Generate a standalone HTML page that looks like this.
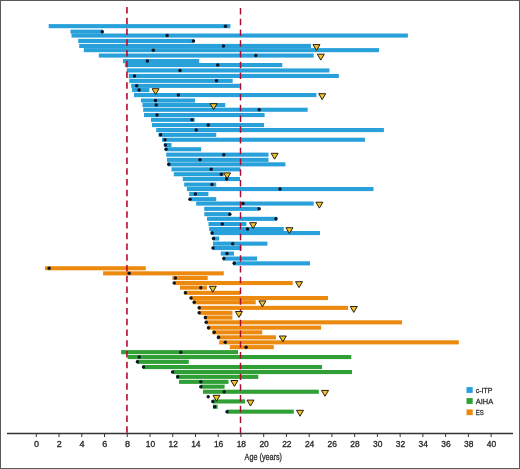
<!DOCTYPE html>
<html><head><meta charset="utf-8"><style>
html,body{margin:0;padding:0;background:#fff;}
body{width:520px;height:469px;overflow:hidden;}
svg{display:block;will-change:transform;font-family:"Liberation Sans",sans-serif;}
</style></head><body>
<svg width="520" height="469" viewBox="0 0 520 469">
<rect x="0" y="0" width="520" height="469" fill="#fff"/>
<rect x="48.70" y="24.10" width="181.70" height="4.1" fill="#28a1db"/><rect x="70.50" y="29.60" width="32.50" height="4.1" fill="#28a1db"/><rect x="71.50" y="33.50" width="336.40" height="4.1" fill="#28a1db"/><rect x="78.20" y="38.90" width="115.80" height="4.1" fill="#28a1db"/><rect x="79.20" y="43.90" width="231.70" height="4.1" fill="#28a1db"/><rect x="83.80" y="48.10" width="295.20" height="4.1" fill="#28a1db"/><rect x="98.80" y="53.50" width="214.90" height="4.1" fill="#28a1db"/><rect x="123.00" y="59.00" width="76.20" height="4.1" fill="#28a1db"/><rect x="124.90" y="63.00" width="157.40" height="4.1" fill="#28a1db"/><rect x="126.80" y="68.40" width="202.60" height="4.1" fill="#28a1db"/><rect x="128.75" y="73.90" width="210.05" height="4.1" fill="#28a1db"/><rect x="129.20" y="78.80" width="103.50" height="4.1" fill="#28a1db"/><rect x="131.20" y="83.80" width="108.60" height="4.1" fill="#28a1db"/><rect x="132.10" y="88.00" width="17.30" height="4.1" fill="#28a1db"/><rect x="134.00" y="93.00" width="182.40" height="4.1" fill="#28a1db"/><rect x="141.00" y="98.50" width="54.00" height="4.1" fill="#28a1db"/><rect x="142.50" y="103.00" width="82.70" height="4.1" fill="#28a1db"/><rect x="143.20" y="107.70" width="164.50" height="4.1" fill="#28a1db"/><rect x="144.00" y="113.00" width="120.60" height="4.1" fill="#28a1db"/><rect x="151.00" y="117.80" width="43.70" height="4.1" fill="#28a1db"/><rect x="152.00" y="123.00" width="112.00" height="4.1" fill="#28a1db"/><rect x="156.20" y="128.00" width="227.70" height="4.1" fill="#28a1db"/><rect x="158.50" y="132.80" width="57.70" height="4.1" fill="#28a1db"/><rect x="162.00" y="137.70" width="202.90" height="4.1" fill="#28a1db"/><rect x="164.20" y="143.00" width="7.30" height="4.1" fill="#28a1db"/><rect x="165.80" y="147.20" width="35.40" height="4.1" fill="#28a1db"/><rect x="166.20" y="152.60" width="102.30" height="4.1" fill="#28a1db"/><rect x="167.00" y="157.80" width="101.50" height="4.1" fill="#28a1db"/><rect x="167.70" y="162.30" width="117.70" height="4.1" fill="#28a1db"/><rect x="171.50" y="167.30" width="68.90" height="4.1" fill="#28a1db"/><rect x="173.80" y="172.20" width="49.90" height="4.1" fill="#28a1db"/><rect x="182.80" y="177.00" width="57.20" height="4.1" fill="#28a1db"/><rect x="184.20" y="182.50" width="32.00" height="4.1" fill="#28a1db"/><rect x="186.90" y="187.00" width="186.60" height="4.1" fill="#28a1db"/><rect x="189.20" y="192.00" width="19.20" height="4.1" fill="#28a1db"/><rect x="190.30" y="197.10" width="25.90" height="4.1" fill="#28a1db"/><rect x="196.20" y="201.50" width="117.50" height="4.1" fill="#28a1db"/><rect x="204.20" y="206.80" width="54.60" height="4.1" fill="#28a1db"/><rect x="204.30" y="212.10" width="26.10" height="4.1" fill="#28a1db"/><rect x="207.00" y="216.80" width="70.00" height="4.1" fill="#28a1db"/><rect x="208.50" y="222.00" width="37.90" height="4.1" fill="#28a1db"/><rect x="209.20" y="227.00" width="74.60" height="4.1" fill="#28a1db"/><rect x="210.80" y="231.00" width="109.20" height="4.1" fill="#28a1db"/><rect x="213.00" y="236.50" width="6.20" height="4.1" fill="#28a1db"/><rect x="213.00" y="241.60" width="54.40" height="4.1" fill="#28a1db"/><rect x="213.00" y="246.00" width="28.50" height="4.1" fill="#28a1db"/><rect x="220.80" y="251.50" width="13.20" height="4.1" fill="#28a1db"/><rect x="223.00" y="256.50" width="34.00" height="4.1" fill="#28a1db"/><rect x="233.00" y="261.30" width="77.00" height="4.1" fill="#28a1db"/><rect x="45.10" y="266.20" width="100.70" height="4.1" fill="#ec8a0f"/><rect x="103.10" y="271.30" width="120.70" height="4.1" fill="#ec8a0f"/><rect x="172.40" y="276.00" width="35.30" height="4.1" fill="#ec8a0f"/><rect x="174.60" y="281.00" width="118.10" height="4.1" fill="#ec8a0f"/><rect x="180.00" y="285.60" width="27.00" height="4.1" fill="#ec8a0f"/><rect x="184.60" y="290.80" width="55.60" height="4.1" fill="#ec8a0f"/><rect x="190.80" y="296.00" width="137.20" height="4.1" fill="#ec8a0f"/><rect x="193.00" y="300.20" width="62.70" height="4.1" fill="#ec8a0f"/><rect x="198.50" y="305.80" width="149.60" height="4.1" fill="#ec8a0f"/><rect x="199.20" y="310.80" width="33.20" height="4.1" fill="#ec8a0f"/><rect x="204.60" y="315.50" width="27.80" height="4.1" fill="#ec8a0f"/><rect x="206.20" y="320.30" width="195.90" height="4.1" fill="#ec8a0f"/><rect x="207.70" y="325.60" width="113.40" height="4.1" fill="#ec8a0f"/><rect x="212.30" y="330.30" width="49.90" height="4.1" fill="#ec8a0f"/><rect x="217.00" y="335.30" width="59.00" height="4.1" fill="#ec8a0f"/><rect x="219.20" y="340.30" width="239.60" height="4.1" fill="#ec8a0f"/><rect x="229.80" y="345.10" width="44.00" height="4.1" fill="#ec8a0f"/><rect x="121.10" y="350.10" width="116.90" height="4.1" fill="#2f9f36"/><rect x="127.70" y="355.00" width="223.60" height="4.1" fill="#2f9f36"/><rect x="137.00" y="359.80" width="51.80" height="4.1" fill="#2f9f36"/><rect x="143.00" y="365.00" width="179.00" height="4.1" fill="#2f9f36"/><rect x="173.00" y="370.00" width="179.00" height="4.1" fill="#2f9f36"/><rect x="176.50" y="374.80" width="81.80" height="4.1" fill="#2f9f36"/><rect x="179.00" y="379.80" width="49.50" height="4.1" fill="#2f9f36"/><rect x="200.80" y="384.60" width="23.80" height="4.1" fill="#2f9f36"/><rect x="203.00" y="389.70" width="115.80" height="4.1" fill="#2f9f36"/><rect x="212.80" y="399.40" width="32.20" height="4.1" fill="#2f9f36"/><rect x="213.00" y="404.70" width="4.70" height="4.1" fill="#2f9f36"/><rect x="227.00" y="409.60" width="66.80" height="4.1" fill="#2f9f36"/>
<line x1="126.95" y1="6.9" x2="126.95" y2="433" stroke="#b80a2c" stroke-width="1.6" stroke-dasharray="6.5 4.25"/><line x1="240.5" y1="8.0" x2="240.5" y2="433" stroke="#ab0d31" stroke-width="1.45" stroke-dasharray="6.5 4.25"/>
<circle cx="225.50" cy="26.15" r="1.75" fill="#0c1525"/><circle cx="102.30" cy="31.65" r="1.75" fill="#0c1525"/><circle cx="167.10" cy="35.55" r="1.75" fill="#0c1525"/><circle cx="193.50" cy="40.95" r="1.75" fill="#0c1525"/><circle cx="223.50" cy="45.95" r="1.75" fill="#0c1525"/><path d="M313.00 44.60L320.00 44.60L316.50 50.50Z" fill="#f3c22b" stroke="#1c160a" stroke-width="0.95" stroke-linejoin="miter"/><circle cx="153.30" cy="50.15" r="1.75" fill="#0c1525"/><circle cx="255.80" cy="55.55" r="1.75" fill="#0c1525"/><path d="M317.30 54.20L324.30 54.20L320.80 60.10Z" fill="#f3c22b" stroke="#1c160a" stroke-width="0.95" stroke-linejoin="miter"/><circle cx="147.40" cy="61.05" r="1.75" fill="#0c1525"/><circle cx="217.70" cy="65.05" r="1.75" fill="#0c1525"/><circle cx="180.00" cy="70.45" r="1.75" fill="#0c1525"/><circle cx="134.50" cy="75.95" r="1.75" fill="#0c1525"/><circle cx="216.50" cy="80.85" r="1.75" fill="#0c1525"/><circle cx="136.70" cy="85.85" r="1.75" fill="#0c1525"/><circle cx="139.10" cy="90.05" r="1.75" fill="#0c1525"/><path d="M152.10 88.70L159.10 88.70L155.60 94.60Z" fill="#f3c22b" stroke="#1c160a" stroke-width="0.95" stroke-linejoin="miter"/><circle cx="178.40" cy="95.05" r="1.75" fill="#0c1525"/><path d="M318.70 93.70L325.70 93.70L322.20 99.60Z" fill="#f3c22b" stroke="#1c160a" stroke-width="0.95" stroke-linejoin="miter"/><circle cx="155.50" cy="100.55" r="1.75" fill="#0c1525"/><circle cx="156.20" cy="105.05" r="1.75" fill="#0c1525"/><path d="M210.10 103.70L217.10 103.70L213.60 109.60Z" fill="#f3c22b" stroke="#1c160a" stroke-width="0.95" stroke-linejoin="miter"/><circle cx="259.20" cy="109.75" r="1.75" fill="#0c1525"/><circle cx="157.00" cy="115.05" r="1.75" fill="#0c1525"/><circle cx="192.00" cy="119.85" r="1.75" fill="#0c1525"/><circle cx="208.20" cy="125.05" r="1.75" fill="#0c1525"/><circle cx="196.20" cy="130.05" r="1.75" fill="#0c1525"/><circle cx="160.60" cy="134.85" r="1.75" fill="#0c1525"/><circle cx="165.00" cy="139.75" r="1.75" fill="#0c1525"/><circle cx="165.40" cy="145.05" r="1.75" fill="#0c1525"/><circle cx="166.00" cy="149.25" r="1.75" fill="#0c1525"/><circle cx="223.80" cy="154.65" r="1.75" fill="#0c1525"/><path d="M271.10 153.30L278.10 153.30L274.60 159.20Z" fill="#f3c22b" stroke="#1c160a" stroke-width="0.95" stroke-linejoin="miter"/><circle cx="200.00" cy="159.85" r="1.75" fill="#0c1525"/><circle cx="168.80" cy="164.35" r="1.75" fill="#0c1525"/><circle cx="211.20" cy="169.35" r="1.75" fill="#0c1525"/><circle cx="221.30" cy="174.25" r="1.75" fill="#0c1525"/><path d="M223.60 172.90L230.60 172.90L227.10 178.80Z" fill="#f3c22b" stroke="#1c160a" stroke-width="0.95" stroke-linejoin="miter"/><circle cx="226.60" cy="179.05" r="1.75" fill="#0c1525"/><circle cx="212.00" cy="184.55" r="1.75" fill="#0c1525"/><circle cx="280.00" cy="189.05" r="1.75" fill="#0c1525"/><circle cx="195.40" cy="194.05" r="1.75" fill="#0c1525"/><circle cx="190.00" cy="199.15" r="1.75" fill="#0c1525"/><circle cx="243.00" cy="203.55" r="1.75" fill="#0c1525"/><path d="M315.90 202.20L322.90 202.20L319.40 208.10Z" fill="#f3c22b" stroke="#1c160a" stroke-width="0.95" stroke-linejoin="miter"/><circle cx="259.20" cy="208.85" r="1.75" fill="#0c1525"/><circle cx="229.80" cy="214.15" r="1.75" fill="#0c1525"/><circle cx="276.00" cy="218.85" r="1.75" fill="#0c1525"/><circle cx="222.30" cy="224.05" r="1.75" fill="#0c1525"/><path d="M249.60 222.70L256.60 222.70L253.10 228.60Z" fill="#f3c22b" stroke="#1c160a" stroke-width="0.95" stroke-linejoin="miter"/><circle cx="247.50" cy="229.05" r="1.75" fill="#0c1525"/><path d="M285.90 227.70L292.90 227.70L289.40 233.60Z" fill="#f3c22b" stroke="#1c160a" stroke-width="0.95" stroke-linejoin="miter"/><circle cx="212.10" cy="233.05" r="1.75" fill="#0c1525"/><circle cx="213.50" cy="238.55" r="1.75" fill="#0c1525"/><circle cx="232.70" cy="243.65" r="1.75" fill="#0c1525"/><circle cx="213.00" cy="248.05" r="1.75" fill="#0c1525"/><circle cx="227.00" cy="253.55" r="1.75" fill="#0c1525"/><circle cx="223.80" cy="258.55" r="1.75" fill="#0c1525"/><circle cx="234.20" cy="263.35" r="1.75" fill="#0c1525"/><circle cx="49.20" cy="268.25" r="1.75" fill="#0c1525"/><circle cx="129.20" cy="273.35" r="1.75" fill="#0c1525"/><circle cx="175.40" cy="278.05" r="1.75" fill="#0c1525"/><circle cx="174.20" cy="283.05" r="1.75" fill="#0c1525"/><path d="M295.50 281.70L302.50 281.70L299.00 287.60Z" fill="#f3c22b" stroke="#1c160a" stroke-width="0.95" stroke-linejoin="miter"/><circle cx="200.80" cy="287.65" r="1.75" fill="#0c1525"/><path d="M209.30 286.30L216.30 286.30L212.80 292.20Z" fill="#f3c22b" stroke="#1c160a" stroke-width="0.95" stroke-linejoin="miter"/><circle cx="185.40" cy="292.85" r="1.75" fill="#0c1525"/><circle cx="191.00" cy="298.05" r="1.75" fill="#0c1525"/><circle cx="194.20" cy="302.25" r="1.75" fill="#0c1525"/><path d="M258.90 300.90L265.90 300.90L262.40 306.80Z" fill="#f3c22b" stroke="#1c160a" stroke-width="0.95" stroke-linejoin="miter"/><circle cx="199.20" cy="307.85" r="1.75" fill="#0c1525"/><path d="M350.30 306.50L357.30 306.50L353.80 312.40Z" fill="#f3c22b" stroke="#1c160a" stroke-width="0.95" stroke-linejoin="miter"/><circle cx="199.20" cy="312.85" r="1.75" fill="#0c1525"/><path d="M235.40 311.50L242.40 311.50L238.90 317.40Z" fill="#f3c22b" stroke="#1c160a" stroke-width="0.95" stroke-linejoin="miter"/><circle cx="205.40" cy="317.55" r="1.75" fill="#0c1525"/><circle cx="206.20" cy="322.35" r="1.75" fill="#0c1525"/><circle cx="208.50" cy="327.65" r="1.75" fill="#0c1525"/><circle cx="214.20" cy="332.35" r="1.75" fill="#0c1525"/><circle cx="218.50" cy="337.35" r="1.75" fill="#0c1525"/><path d="M279.30 336.00L286.30 336.00L282.80 341.90Z" fill="#f3c22b" stroke="#1c160a" stroke-width="0.95" stroke-linejoin="miter"/><circle cx="225.30" cy="342.35" r="1.75" fill="#0c1525"/><circle cx="246.10" cy="347.15" r="1.75" fill="#0c1525"/><circle cx="180.80" cy="352.15" r="1.75" fill="#0c1525"/><circle cx="139.20" cy="357.05" r="1.75" fill="#0c1525"/><circle cx="137.40" cy="361.85" r="1.75" fill="#0c1525"/><circle cx="143.50" cy="367.05" r="1.75" fill="#0c1525"/><circle cx="172.60" cy="372.05" r="1.75" fill="#0c1525"/><circle cx="177.70" cy="376.85" r="1.75" fill="#0c1525"/><circle cx="200.80" cy="381.85" r="1.75" fill="#0c1525"/><path d="M230.90 380.50L237.90 380.50L234.40 386.40Z" fill="#f3c22b" stroke="#1c160a" stroke-width="0.95" stroke-linejoin="miter"/><circle cx="200.80" cy="386.65" r="1.75" fill="#0c1525"/><circle cx="224.20" cy="391.75" r="1.75" fill="#0c1525"/><path d="M321.50 390.40L328.50 390.40L325.00 396.30Z" fill="#f3c22b" stroke="#1c160a" stroke-width="0.95" stroke-linejoin="miter"/><circle cx="208.20" cy="396.65" r="1.75" fill="#0c1525"/><path d="M213.00 395.30L220.00 395.30L216.50 401.20Z" fill="#f3c22b" stroke="#1c160a" stroke-width="0.95" stroke-linejoin="miter"/><circle cx="212.80" cy="401.45" r="1.75" fill="#0c1525"/><path d="M247.00 400.10L254.00 400.10L250.50 406.00Z" fill="#f3c22b" stroke="#1c160a" stroke-width="0.95" stroke-linejoin="miter"/><circle cx="214.60" cy="406.75" r="1.75" fill="#0c1525"/><circle cx="227.00" cy="411.65" r="1.75" fill="#0c1525"/><path d="M296.50 410.30L303.50 410.30L300.00 416.20Z" fill="#f3c22b" stroke="#1c160a" stroke-width="0.95" stroke-linejoin="miter"/>
<line x1="7" y1="433.5" x2="513" y2="433.5" stroke="#333" stroke-width="1.3"/>
<line x1="36.30" y1="433.5" x2="36.30" y2="437" stroke="#333" stroke-width="1"/><line x1="59.04" y1="433.5" x2="59.04" y2="437" stroke="#333" stroke-width="1"/><line x1="81.78" y1="433.5" x2="81.78" y2="437" stroke="#333" stroke-width="1"/><line x1="104.52" y1="433.5" x2="104.52" y2="437" stroke="#333" stroke-width="1"/><line x1="127.26" y1="433.5" x2="127.26" y2="437" stroke="#333" stroke-width="1"/><line x1="150.00" y1="433.5" x2="150.00" y2="437" stroke="#333" stroke-width="1"/><line x1="172.74" y1="433.5" x2="172.74" y2="437" stroke="#333" stroke-width="1"/><line x1="195.48" y1="433.5" x2="195.48" y2="437" stroke="#333" stroke-width="1"/><line x1="218.22" y1="433.5" x2="218.22" y2="437" stroke="#333" stroke-width="1"/><line x1="240.96" y1="433.5" x2="240.96" y2="437" stroke="#333" stroke-width="1"/><line x1="263.70" y1="433.5" x2="263.70" y2="437" stroke="#333" stroke-width="1"/><line x1="286.44" y1="433.5" x2="286.44" y2="437" stroke="#333" stroke-width="1"/><line x1="309.18" y1="433.5" x2="309.18" y2="437" stroke="#333" stroke-width="1"/><line x1="331.92" y1="433.5" x2="331.92" y2="437" stroke="#333" stroke-width="1"/><line x1="354.66" y1="433.5" x2="354.66" y2="437" stroke="#333" stroke-width="1"/><line x1="377.40" y1="433.5" x2="377.40" y2="437" stroke="#333" stroke-width="1"/><line x1="400.14" y1="433.5" x2="400.14" y2="437" stroke="#333" stroke-width="1"/><line x1="422.88" y1="433.5" x2="422.88" y2="437" stroke="#333" stroke-width="1"/><line x1="445.62" y1="433.5" x2="445.62" y2="437" stroke="#333" stroke-width="1"/><line x1="468.36" y1="433.5" x2="468.36" y2="437" stroke="#333" stroke-width="1"/><line x1="491.10" y1="433.5" x2="491.10" y2="437" stroke="#333" stroke-width="1"/>
<g font-size="9" fill="#262626" stroke="#262626" stroke-width="0.32"><text x="36.50" y="446.9" text-anchor="middle">0</text><text x="59.24" y="446.9" text-anchor="middle">2</text><text x="81.98" y="446.9" text-anchor="middle">4</text><text x="104.72" y="446.9" text-anchor="middle">6</text><text x="127.46" y="446.9" text-anchor="middle">8</text><text x="150.40" y="446.9" text-anchor="middle" textLength="9.4" lengthAdjust="spacingAndGlyphs">10</text><text x="173.14" y="446.9" text-anchor="middle" textLength="9.4" lengthAdjust="spacingAndGlyphs">12</text><text x="195.88" y="446.9" text-anchor="middle" textLength="9.4" lengthAdjust="spacingAndGlyphs">14</text><text x="218.62" y="446.9" text-anchor="middle" textLength="9.4" lengthAdjust="spacingAndGlyphs">16</text><text x="241.36" y="446.9" text-anchor="middle" textLength="9.4" lengthAdjust="spacingAndGlyphs">18</text><text x="264.10" y="446.9" text-anchor="middle" textLength="9.4" lengthAdjust="spacingAndGlyphs">20</text><text x="286.84" y="446.9" text-anchor="middle" textLength="9.4" lengthAdjust="spacingAndGlyphs">22</text><text x="309.58" y="446.9" text-anchor="middle" textLength="9.4" lengthAdjust="spacingAndGlyphs">24</text><text x="332.32" y="446.9" text-anchor="middle" textLength="9.4" lengthAdjust="spacingAndGlyphs">26</text><text x="355.06" y="446.9" text-anchor="middle" textLength="9.4" lengthAdjust="spacingAndGlyphs">28</text><text x="377.80" y="446.9" text-anchor="middle" textLength="9.4" lengthAdjust="spacingAndGlyphs">30</text><text x="400.54" y="446.9" text-anchor="middle" textLength="9.4" lengthAdjust="spacingAndGlyphs">32</text><text x="423.28" y="446.9" text-anchor="middle" textLength="9.4" lengthAdjust="spacingAndGlyphs">34</text><text x="446.02" y="446.9" text-anchor="middle" textLength="9.4" lengthAdjust="spacingAndGlyphs">36</text><text x="468.76" y="446.9" text-anchor="middle" textLength="9.4" lengthAdjust="spacingAndGlyphs">38</text><text x="491.50" y="446.9" text-anchor="middle" textLength="9.4" lengthAdjust="spacingAndGlyphs">40</text></g>
<text x="244.6" y="460.2" font-size="9.8" fill="#2a2a2a" stroke="#262626" stroke-width="0.3" textLength="37.4" lengthAdjust="spacingAndGlyphs">Age (years)</text>
<g fill="#2a2a2a" stroke-width="0">
<rect x="466.5" y="387.1" width="6.2" height="5.8" fill="#28a1db"/>
<rect x="466.5" y="398.1" width="6.2" height="5.8" fill="#2f9f36"/>
<rect x="466.5" y="409.4" width="6.2" height="5.8" fill="#ec8a0f"/>
<text x="475.8" y="392.6" textLength="16.7" lengthAdjust="spacingAndGlyphs" font-size="7.8" stroke="#2a2a2a" stroke-width="0.28">c-ITP</text>
<text x="475.8" y="403.6" textLength="17.3" lengthAdjust="spacingAndGlyphs" font-size="7.8" stroke="#2a2a2a" stroke-width="0.28">AIHA</text>
<text x="475.8" y="414.9" textLength="8.0" lengthAdjust="spacingAndGlyphs" font-size="7.8" stroke="#2a2a2a" stroke-width="0.28">ES</text>
</g>
<rect x="0.5" y="0.5" width="519" height="468" fill="none" stroke="#5a5a5a" stroke-width="1"/>
</svg>
</body></html>
